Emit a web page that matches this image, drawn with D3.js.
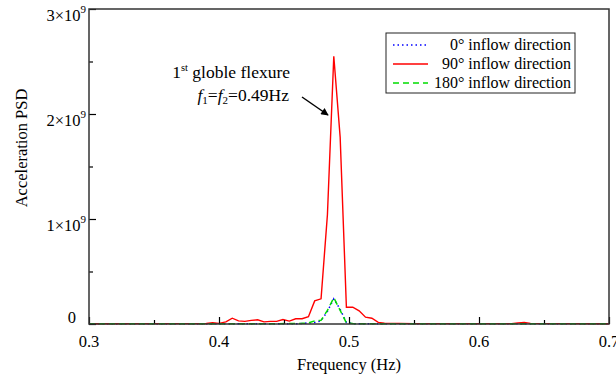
<!DOCTYPE html>
<html>
<head>
<meta charset="utf-8">
<script src="https://cdn.jsdelivr.net/npm/d3@7"></script>
<style>
  body { margin: 0; background: #fff; }
  svg { display: block; font-family: "Liberation Serif", "Times New Roman", serif; }
</style>
</head>
<body>
<svg id="viz" width="616" height="378"></svg>
<script>
// frequency (Hz) and PSD values (x1e9)
var freq0 = [0.30, 0.40, 0.4590, 0.4639, 0.4688, 0.4736, 0.4785, 0.4834, 0.4883, 0.4932, 0.4980, 0.5029, 0.5078, 0.60, 0.70];
var psd0 = [0.002, 0.002, 0.003, 0.005, 0.01, 0.015, 0.03, 0.12, 0.24, 0.14, 0.015, 0.003, 0.002, 0.002, 0.002];

var freq90 = [0.30, 0.35, 0.3902, 0.3951, 0.40, 0.4053, 0.4102, 0.4150, 0.4199, 0.4248, 0.4297, 0.4346, 0.4395,
    0.4443, 0.4492, 0.4541, 0.4590, 0.4639, 0.4688, 0.4736, 0.4785, 0.4834, 0.4883, 0.4932, 0.4980,
    0.5029, 0.5078, 0.5127, 0.5176, 0.5225, 0.5273, 0.55, 0.6250, 0.6299, 0.6348, 0.6396, 0.70];
var psd90 = [0.003, 0.004, 0.005, 0.012, 0.006, 0.02, 0.055, 0.03, 0.025, 0.035, 0.04, 0.02, 0.025,
    0.025, 0.042, 0.028, 0.05, 0.05, 0.07, 0.22, 0.24, 1.04, 2.55, 1.78, 0.16,
    0.16, 0.125, 0.065, 0.055, 0.016, 0.008, 0.004, 0.004, 0.01, 0.015, 0.006, 0.003];

var freq180 = [0.30, 0.40, 0.4590, 0.4639, 0.4688, 0.4736, 0.4785, 0.4834, 0.4883, 0.4932, 0.4980, 0.5029, 0.5078, 0.60, 0.70];
var psd180 = [0.002, 0.002, 0.004, 0.006, 0.01, 0.03, 0.035, 0.13, 0.25, 0.13, 0.01, 0.004, 0.002, 0.002, 0.002];

var xTicks = [0.3, 0.4, 0.5, 0.6, 0.7];
var xMinor = [0.35, 0.45, 0.55, 0.65];
var yTicks = [0, 1, 2, 3];
var yMinor = [0.5, 1.5, 2.5];
var legendLabels = ["0\u00b0 inflow direction", "90\u00b0 inflow direction", "180\u00b0 inflow direction"];

var svg = d3.select('svg#viz');
var plotL = 89, plotR = 609, plotT = 9, plotB = 324;

var x = d3.scaleLinear().domain([0.3, 0.7]).range([plotL, plotR]);
var y = d3.scaleLinear().domain([0, 3]).range([plotB, plotT]);

var series = [
    { f: freq0, v: psd0, color: '#0000ff', dash: '1.5,3', width: 1.5 },
    { f: freq90, v: psd90, color: '#ff0000', dash: null, width: 1.4 },
    { f: freq180, v: psd180, color: '#00dd00', dash: '6,4', width: 1.5 }
];

svg.append('clipPath').attr('id', 'plotclip')
    .append('rect').attr('x', plotL).attr('y', plotT).attr('width', plotR - plotL).attr('height', plotB - plotT + 2);

var line = d3.line()
    .x(function(d) { return x(d[0]); })
    .y(function(d) { return y(d[1]); });

svg.append('g').attr('clip-path', 'url(#plotclip)')
    .selectAll('path').data(series).enter()
    .append('path')
    .attr('d', function(s) { return line(d3.zip(s.f, s.v)); })
    .attr('fill', 'none')
    .attr('stroke', function(s) { return s.color; })
    .attr('stroke-width', function(s) { return s.width; })
    .attr('stroke-dasharray', function(s) { return s.dash; });

// axes with inward ticks
svg.append('g').attr('transform', 'translate(0,' + plotB + ')')
    .call(d3.axisBottom(x).tickValues(xTicks).tickSize(-7).tickFormat(''));
svg.append('g').attr('transform', 'translate(0,' + plotB + ')')
    .call(d3.axisBottom(x).tickValues(xMinor).tickSize(-4).tickFormat(''));
svg.append('g').attr('transform', 'translate(' + plotL + ',0)')
    .call(d3.axisLeft(y).tickValues(yTicks).tickSize(-7).tickFormat(''));
svg.append('g').attr('transform', 'translate(' + plotL + ',0)')
    .call(d3.axisLeft(y).tickValues(yMinor).tickSize(-4).tickFormat(''));
svg.selectAll('.domain').remove();
svg.selectAll('.tick line').attr('stroke', '#000').attr('stroke-width', 1.2);

svg.append('rect')
    .attr('x', plotL).attr('y', plotT)
    .attr('width', plotR - plotL).attr('height', plotB - plotT)
    .attr('fill', 'none').attr('stroke', '#333').attr('stroke-width', 1.5);

// tick labels
svg.selectAll('text.xlab').data(xTicks).enter()
    .append('text').attr('class', 'xlab')
    .attr('x', function(d) { return x(d); })
    .attr('y', plotB + 23)
    .attr('text-anchor', 'middle')
    .attr('font-size', 16.5)
    .text(function(d) { return d.toFixed(1); });

var ylab = svg.selectAll('text.ylab').data(yTicks).enter()
    .append('text').attr('class', 'ylab')
    .attr('x', function(d) { return d === 0 ? 76 : 86; })
    .attr('y', function(d) { return d === 0 ? y(d) - 1 : y(d) + 12; })
    .attr('text-anchor', 'end')
    .attr('font-size', 16.5);
ylab.each(function(d) {
    var t = d3.select(this);
    if (d === 0) { t.text('0'); return; }
    t.append('tspan').text(d + '\u00d710');
    t.append('tspan').attr('font-size', 11).attr('dy', -8).text('9');
});

// axis titles
svg.append('text')
    .attr('x', (plotL + plotR) / 2).attr('y', 370)
    .attr('text-anchor', 'middle').attr('font-size', 16.5)
    .text('Frequency (Hz)');
svg.append('text')
    .attr('transform', 'translate(27,' + 148 + ') rotate(-90)')
    .attr('text-anchor', 'middle').attr('font-size', 16.5)
    .text('Acceleration PSD');

// annotation
var note1 = svg.append('text').attr('x', 290).attr('y', 78).attr('font-size', 17.5).attr('text-anchor', 'end');
note1.append('tspan').text('1');
note1.append('tspan').attr('font-size', 10.5).attr('dy', -7).text('st');
note1.append('tspan').attr('dy', 7).text(' globle flexure');

var note2 = svg.append('text').attr('x', 289).attr('y', 101).attr('font-size', 17.5).attr('text-anchor', 'end');
note2.append('tspan').attr('font-style', 'italic').text('f');
note2.append('tspan').attr('font-size', 11).attr('dy', 3).text('1');
note2.append('tspan').attr('dy', -3).text('=');
note2.append('tspan').attr('font-style', 'italic').text('f');
note2.append('tspan').attr('font-size', 11).attr('dy', 3).text('2');
note2.append('tspan').attr('dy', -3).text('=0.49Hz');

svg.append('defs').append('marker')
    .attr('id', 'arrow').attr('viewBox', '0 0 10 10')
    .attr('refX', 9).attr('refY', 5)
    .attr('markerWidth', 6).attr('markerHeight', 5)
    .attr('orient', 'auto')
    .append('path').attr('d', 'M0,0 L10,5 L0,10 z').attr('fill', '#000');

svg.append('line')
    .attr('x1', 302).attr('y1', 97)
    .attr('x2', 328).attr('y2', 115)
    .attr('stroke', '#000').attr('stroke-width', 1.5)
    .attr('marker-end', 'url(#arrow)');

// legend
var legend = svg.append('g');
legend.append('rect')
    .attr('x', 386).attr('y', 33).attr('width', 189).attr('height', 60)
    .attr('fill', '#fff').attr('stroke', '#222').attr('stroke-width', 1);
var rows = legend.selectAll('g.row').data(series).enter()
    .append('g').attr('class', 'row')
    .attr('transform', function(d, i) { return 'translate(0,' + (45 + i * 19) + ')'; });
rows.append('line')
    .attr('x1', 393).attr('x2', 428).attr('y1', 0).attr('y2', 0)
    .attr('stroke', function(s) { return s.color; })
    .attr('stroke-width', function(s) { return s.width; })
    .attr('stroke-dasharray', function(s) { return s.dash; });
rows.append('text')
    .attr('x', 571).attr('y', 5)
    .attr('text-anchor', 'end').attr('font-size', 16)
    .text(function(d, i) { return legendLabels[i]; });
</script>
</body>
</html>
